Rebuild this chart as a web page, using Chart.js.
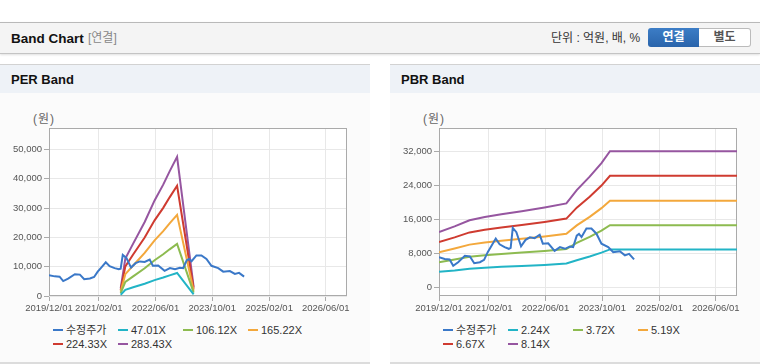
<!DOCTYPE html>
<html lang="ko">
<head>
<meta charset="utf-8">
<script src="https://cdn.jsdelivr.net/npm/chart.js@4/dist/chart.umd.min.js"></script>
<style>
  body { margin: 0; width: 760px; height: 364px; overflow: hidden; background: #fff;
         font-family: "Liberation Sans", "Noto Sans CJK KR", sans-serif; position: relative; }
  .topbar { position: absolute; left: 0; top: 22px; width: 760px; height: 30px; background: #f4f4f4;
            border-top: 1px solid #b9b9b9; border-bottom: 1px solid #c4c4c4; box-shadow: 0 1px 2px rgba(0,0,0,.12); }
  .title { position: absolute; left: 11px; top: 8px; font-size: 13.5px; font-weight: bold; color: #111; line-height: 15px; }
  .sub { position: absolute; left: 88px; top: 8px; font-size: 12px; color: #888; line-height: 15px; }
  .unit { position: absolute; left: 551px; top: 8px; font-size: 12px; color: #333; line-height: 15px; }
  .btn { position: absolute; top: 5px; height: 19px; width: 51px; font-size: 12px; font-weight: bold;
         line-height: 19px; text-align: center; box-sizing: border-box; }
  .btn.on { left: 648px; background: linear-gradient(#3c7dc6, #2a64ab); color: #fff; border-radius: 3px 0 0 3px; }
  .btn.off { left: 699px; width: 52px; background: #fff; color: #555; border: 1px solid #bbb; border-left: none;
             border-radius: 0 3px 3px 0; line-height: 17px; }
  .panel { position: absolute; top: 64px; width: 370px; height: 297px; background: #fbfbfb;
           border-top: 1px solid #d2d2d2; border-bottom: 2px solid #dcdcdc; }
  .phead { height: 28px; background: #eef2f7; font-size: 13px; font-weight: bold; color: #111;
           line-height: 30px; padding-left: 11px; }
  .unitlbl { position: absolute; top: 44px; font-size: 12px; color: #666; letter-spacing: 1px; }
  canvas { position: absolute; top: 35px; }
  .legend { position: absolute; top: 259px; font-size: 11px; color: #333; }
  .item { position: absolute; white-space: nowrap; line-height: 13px; }
  .item i { display: inline-block; width: 10px; height: 2px; margin-right: 3px; vertical-align: middle; position: relative; top: -1px; }
</style>
</head>
<body>
<div class="topbar">
  <div class="title">Band Chart</div>
  <div class="sub">[연결]</div>
  <div class="unit">단위 : 억원, 배, %</div>
  <div class="btn on">연결</div>
  <div class="btn off">별도</div>
</div>

<div class="panel" style="left:0">
  <div class="phead">PER Band</div>
  <div class="unitlbl" style="left:33px">(원)</div>
  <canvas id="perChart" width="370" height="220"></canvas>
  <div class="legend" id="perLegend"></div>
</div>

<div class="panel" style="left:390px">
  <div class="phead">PBR Band</div>
  <div class="unitlbl" style="left:33px">(원)</div>
  <canvas id="pbrChart" width="370" height="220"></canvas>
  <div class="legend" id="pbrLegend"></div>
</div>

<script>
// axis
const xTickLabels = ['2019/12/01', '2021/02/01', '2022/06/01', '2023/10/01', '2025/02/01', '2026/06/01'];
const xStart = '2019/12/01';
const xEnd = '2026/12/01';
const perYTicks = [0, 10000, 20000, 30000, 40000, 50000];
const pbrYTicks = [0, 8000, 16000, 24000, 32000];

// 수정주가 (same series on both charts)
const priceDates = ['2019/12/01', '2020/01/19', '2020/03/01', '2020/04/01', '2020/05/13', '2020/07/10', '2020/08/22',
  '2020/09/28', '2020/11/16', '2020/12/22', '2021/01/22', '2021/02/25', '2021/04/01', '2021/05/04', '2021/06/16',
  '2021/07/22', '2021/08/07', '2021/08/25', '2021/09/25', '2021/11/04', '2021/12/13', '2022/01/19', '2022/03/01',
  '2022/04/13', '2022/05/10', '2022/06/25', '2022/08/19', '2022/10/04', '2022/11/16', '2022/12/28', '2023/01/25',
  '2023/02/25', '2023/03/16', '2023/04/07', '2023/05/19', '2023/07/01', '2023/08/13', '2023/09/25', '2023/11/22',
  '2024/01/04', '2024/03/01', '2024/04/13', '2024/05/19', '2024/07/01'];
const priceValues = [7100, 6700, 6600, 5100, 5950, 7450, 7300, 5700, 5950, 6500, 8300, 9850, 11500, 10150, 9500,
  9100, 9300, 14000, 13000, 9700, 11200, 11800, 11600, 12400, 10300, 10400, 8600, 9500, 9100, 9650, 9500,
  12200, 12600, 11850, 13850, 13850, 12650, 10300, 9500, 8300, 8500, 7550, 7900, 6600];

// PER band
const perLabels = ['47.01X', '106.12X', '165.22X', '224.33X', '283.43X'];
const perDates = ['2021/08/07', '2021/09/16', '2021/11/22', '2022/03/01', '2022/05/25', '2022/08/07', '2022/10/01', '2022/12/04', '2023/04/25'];
const per1 = [420, 2120, 2960, 4180, 5410, 6300, 7050, 7870, 520];
const per2 = [960, 4780, 6690, 9450, 12200, 14220, 15920, 17780, 1170];
const per3 = [1490, 7440, 10410, 14710, 19000, 22140, 24780, 27670, 1820];
const per4 = [2020, 10100, 14130, 19970, 25800, 30060, 33650, 37580, 2470];
const per5 = [2550, 12750, 17860, 25230, 32590, 37980, 42520, 47470, 3120];

// PBR band
const pbrLabels = ['2.24X', '3.72X', '5.19X', '6.67X', '8.14X'];
const pbrDates = ['2019/12/01', '2020/04/13', '2020/08/19', '2020/12/28', '2021/05/19', '2021/11/10', '2022/05/25',
  '2022/11/28', '2023/02/25', '2023/06/16', '2023/09/25', '2023/12/07', '2026/12/01'];
const pbr1 = [3700, 4000, 4400, 4650, 4850, 5050, 5300, 5650, 6400, 7300, 8200, 8950, 8950];
const pbr2 = [5950, 6570, 7220, 7580, 7880, 8200, 8600, 9040, 10470, 11920, 13370, 14640, 14640];
const pbr3 = [8300, 9170, 10080, 10580, 10990, 11440, 12000, 12610, 14600, 16620, 18650, 20420, 20420];
const pbr4 = [10670, 11780, 12950, 13600, 14120, 14700, 15420, 16200, 18770, 21360, 23960, 26250, 26250];
const pbr5 = [13020, 14380, 15810, 16590, 17230, 17940, 18820, 19770, 22910, 26070, 29250, 32030, 32030];

const colors = ['#3a78c8', '#22b4c6', '#8dbb50', '#f3a83c', '#cf3b30', '#9656a0'];

const toTime = (s) => {
    const [y, m, d] = s.split('/').map(Number);
    return Date.UTC(y, m - 1, d);
};
const points = (dates, values) => dates.map((d, i) => ({ x: toTime(d), y: values[i] }));

Chart.defaults.font.family = '"Liberation Sans", "Noto Sans CJK KR", sans-serif';

const plotFrame = {
    id: 'plotFrame',
    beforeDraw(chart) {
        const { ctx, chartArea: a } = chart;
        ctx.save();
        ctx.fillStyle = '#fff';
        ctx.fillRect(a.left, a.top, a.right - a.left, a.bottom - a.top);
        ctx.restore();
    },
    beforeDatasetsDraw(chart) {
        const { ctx, chartArea: a } = chart;
        const l = Math.round(a.left) + 0.5, t = Math.round(a.top) + 0.5;
        const r = Math.round(a.right) - 0.5, b = Math.round(a.bottom) - 0.5;
        ctx.save();
        ctx.strokeStyle = '#aaaaaa';
        ctx.lineWidth = 1;
        ctx.strokeRect(l, t, r - l, b - t);
        ctx.restore();
    }
};

const makeChart = (id, series, names, yMin, yMax, yTicks) => {
    const datasets = series.map((pts, i) => ({
        label: names[i],
        data: pts,
        borderColor: colors[i],
        backgroundColor: colors[i],
        borderWidth: 2,
        pointRadius: 0,
        tension: 0,
        fill: false
    }));
    return new Chart(document.getElementById(id), {
        type: 'line',
        data: { datasets },
        plugins: [plotFrame],
        options: {
            responsive: false,
            animation: false,
            layout: { padding: { top: 28, right: 23, left: 0, bottom: 0 } },
            plugins: { legend: { display: false }, tooltip: { enabled: false } },
            scales: {
                x: {
                    type: 'linear',
                    min: toTime(xStart),
                    max: toTime(xEnd),
                    afterBuildTicks: (s) => { s.ticks = xTickLabels.map(d => ({ value: toTime(d) })); },
                    afterFit: (s) => { s.height = 24; },
                    ticks: {
                        autoSkip: false, maxRotation: 0, padding: 2, color: '#555',
                        font: { size: 9.5 },
                        callback: (v, i) => xTickLabels[i]
                    },
                    grid: { color: '#e8e8e8', tickLength: 5, tickColor: '#aaa' },
                    border: { display: false }
                },
                y: {
                    min: yMin,
                    max: yMax,
                    afterBuildTicks: (s) => { s.ticks = yTicks.map(v => ({ value: v })); },
                    afterFit: (s) => { s.width = 49; },
                    ticks: {
                        padding: 2, color: '#555', font: { size: 9.5 },
                        callback: (v) => v.toLocaleString('en-US')
                    },
                    grid: { color: '#e8e8e8', tickLength: 5, tickColor: '#aaa' },
                    border: { display: false }
                }
            }
        }
    });
};

const buildLegend = (elId, names) => {
    const el = document.getElementById(elId);
    names.forEach((n, i) => {
        const div = document.createElement('div');
        div.className = 'item';
        div.style.left = (53 + 65 * (i % 4)) + 'px';
        div.style.top = (Math.floor(i / 4) * 13.5) + 'px';
        div.innerHTML = `<i style="background:${colors[i]}"></i>${n}`;
        el.appendChild(div);
    });
};

const perNames = ['수정주가', ...perLabels];
const pbrNames = ['수정주가', ...pbrLabels];

makeChart('perChart', [
    points(priceDates, priceValues),
    points(perDates, per1), points(perDates, per2), points(perDates, per3),
    points(perDates, per4), points(perDates, per5)
], perNames, 0, 57300, perYTicks);

makeChart('pbrChart', [
    points(priceDates, priceValues),
    points(pbrDates, pbr1), points(pbrDates, pbr2), points(pbrDates, pbr3),
    points(pbrDates, pbr4), points(pbrDates, pbr5)
], pbrNames, -2000, 37500, pbrYTicks);

buildLegend('perLegend', perNames);
buildLegend('pbrLegend', pbrNames);
</script>
</body>
</html>
